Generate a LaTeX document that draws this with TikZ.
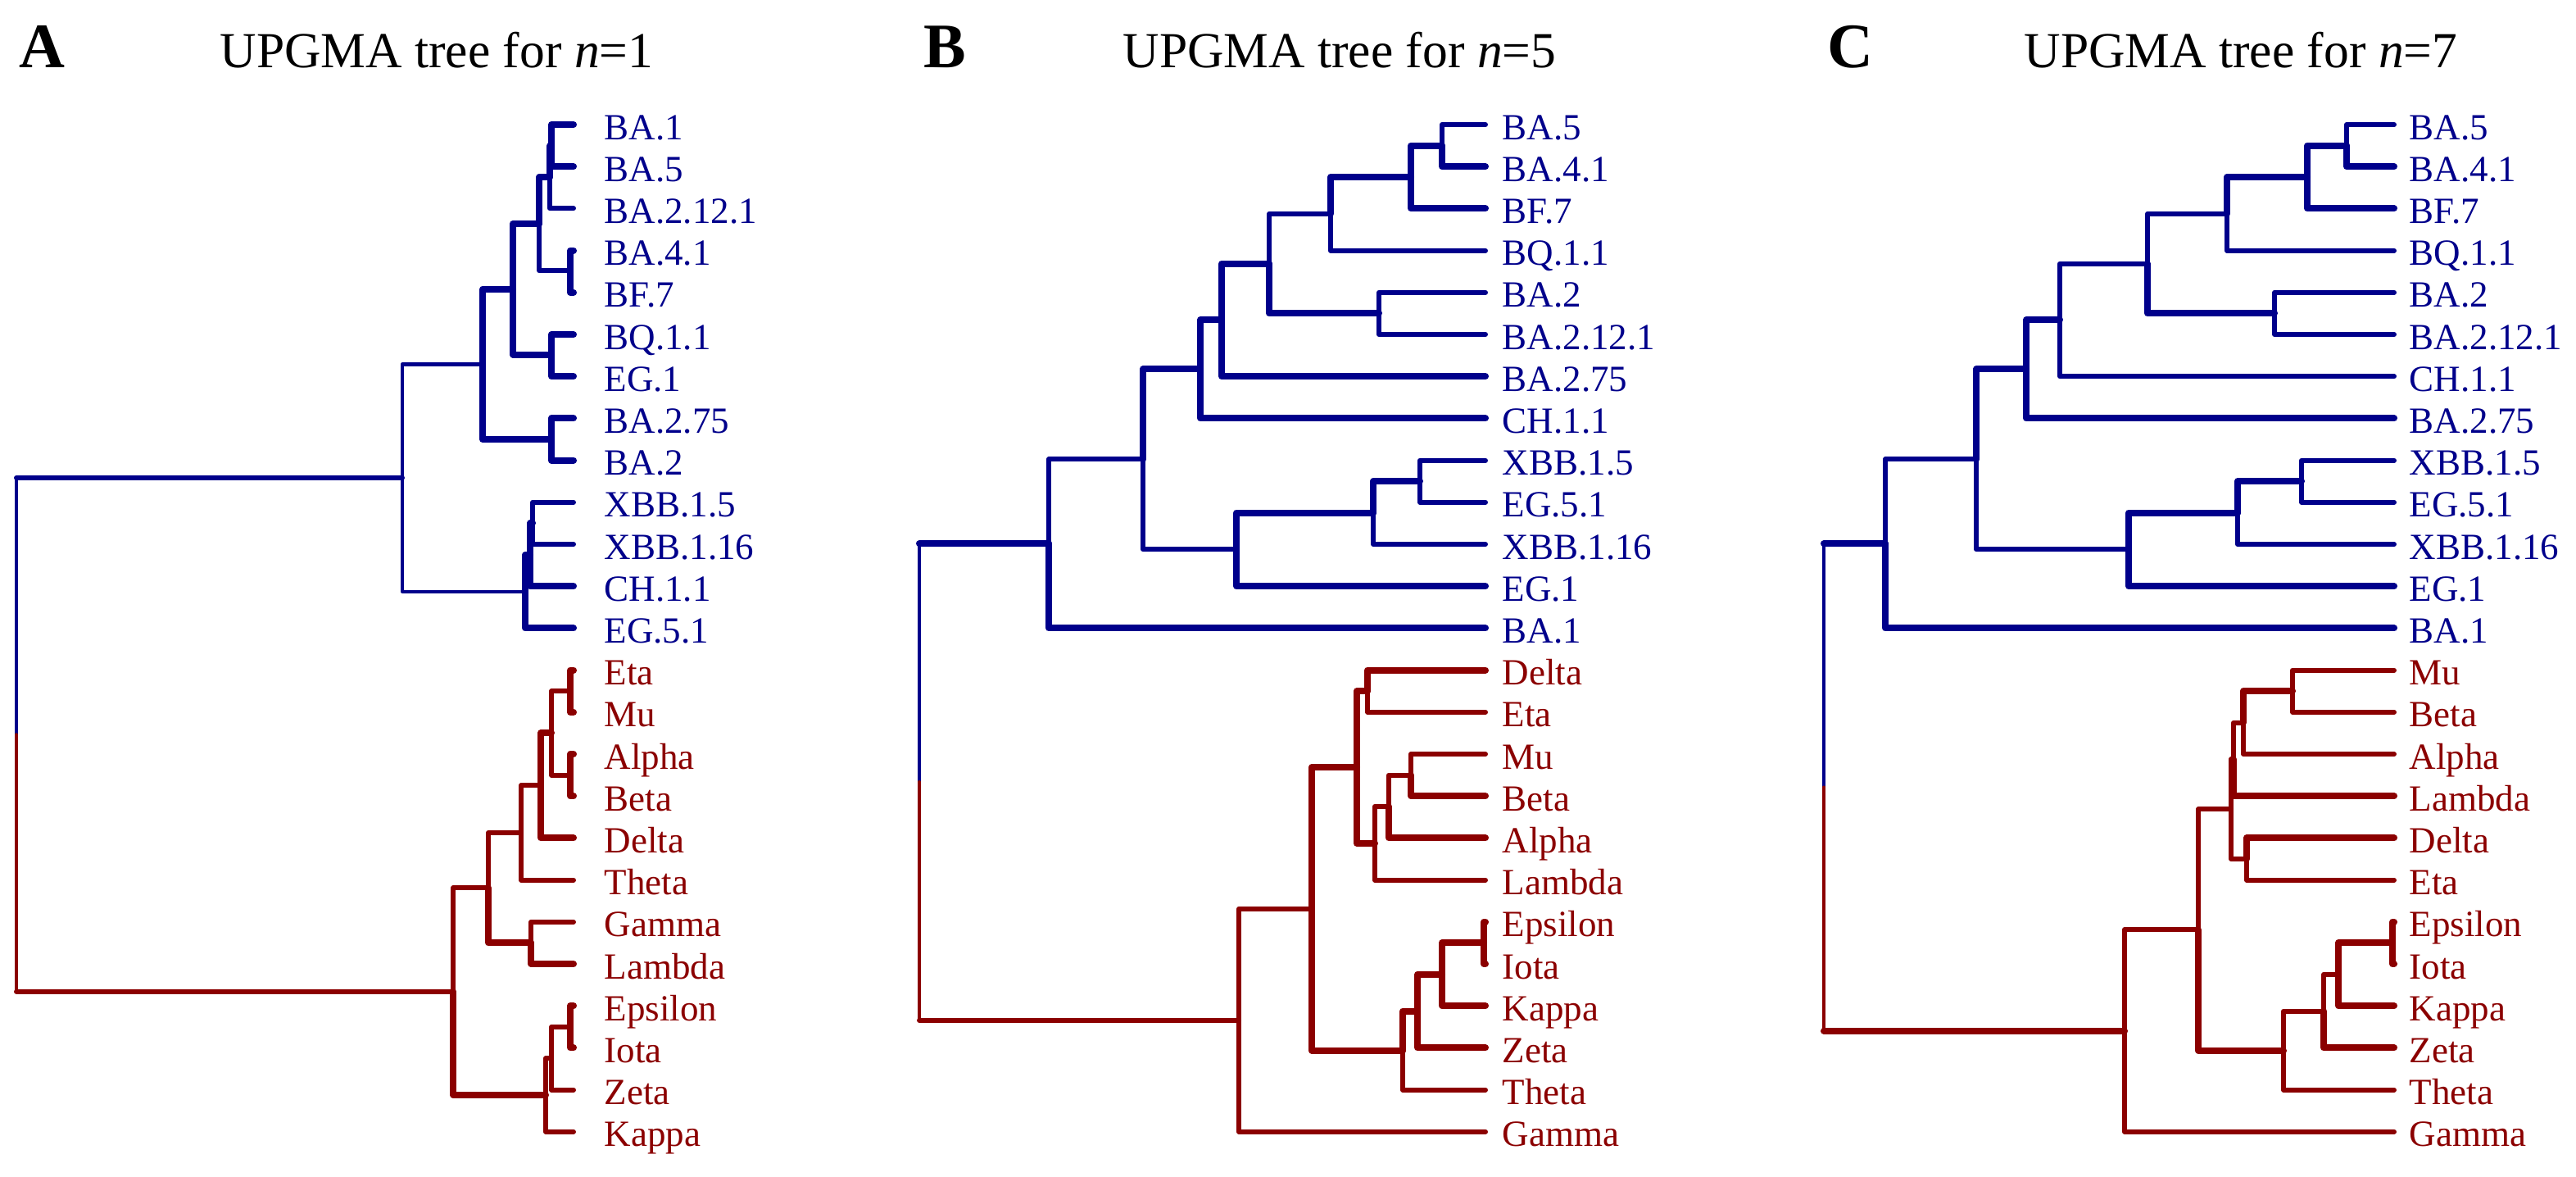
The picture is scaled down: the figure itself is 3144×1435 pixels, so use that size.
\documentclass[tikz,border=0pt]{standalone}
\usepackage{fontspec}
\setmainfont{Liberation Serif}
\definecolor{cladeblue}{RGB}{0,0,139}
\definecolor{cladered}{RGB}{139,0,0}

\begin{document}
\begin{tikzpicture}[x=0.01cm,y=-0.01cm,
	br/.style={line width=1.7pt,line cap=round,line join=round},
	hv/.style={br,line width=2.3pt},
	stem/.style={br,line width=1.2pt},
	leaf/.style={anchor=base west,inner sep=0pt,font=\fontsize{12.8}{14}\selectfont},
	ttl/.style={anchor=base west,inner sep=0pt,font=\fontsize{17.5}{20}\selectfont},
	tag/.style={anchor=base west,inner sep=0pt,font=\fontsize{22}{24}\selectfont\bfseries}]
	\useasboundingbox (0,0) rectangle (3144,1435);

	% titles
	\node[tag] (tagA) at (23,82) {A};
	\node[ttl] (ttlA) at (268,82) {UPGMA tree for \textit{n}=1};
	\node[tag] (tagB) at (1127,82) {B};
	\node[ttl] (ttlB) at (1370,82) {UPGMA tree for \textit{n}=5};
	\node[tag] (tagC) at (2230,82) {C};
	\node[ttl] (ttlC) at (2470,82) {UPGMA tree for \textit{n}=7};

	% panel A leaves
	\foreach \lab [count=\i from 0] in {BA.1,BA.5,BA.2.12.1,BA.4.1,BF.7,BQ.1.1,EG.1,BA.2.75,BA.2,XBB.1.5,XBB.1.16,CH.1.1,EG.5.1}{
		\coordinate (A\i) at (700,{152+51.2*\i});
		\node[leaf,cladeblue] (la\i) at (737,{170+51.2*\i}) {\lab};
	}
	\foreach \lab [count=\i from 13] in {Eta,Mu,Alpha,Beta,Delta,Theta,Gamma,Lambda,Epsilon,Iota,Zeta,Kappa}{
		\coordinate (A\i) at (700,{152+51.2*\i});
		\node[leaf,cladered] (la\i) at (737,{170+51.2*\i}) {\lab};
	}
	\coordinate (a1a) at (673,177.6);
	\coordinate (a1) at (671,216);
	\coordinate (a2) at (696,330.2);
	\coordinate (a3) at (658,273.1);
	\coordinate (a4) at (673,432.6);
	\coordinate (a5) at (626,352.9);
	\coordinate (a6) at (673,536);
	\coordinate (a7) at (589,444.4);
	\coordinate (a8a) at (650,638.4);
	\coordinate (a8) at (647,676.8);
	\coordinate (a9) at (641,721.6);
	\coordinate (a10) at (491,583);
	\coordinate (a11) at (696,843.2);
	\coordinate (a12) at (696,945.6);
	\coordinate (a13) at (673,894.4);
	\coordinate (a14) at (660,958.4);
	\coordinate (a15) at (636,1016);
	\coordinate (a16) at (648,1150.4);
	\coordinate (a17) at (596,1083.2);
	\coordinate (a18) at (696,1252.8);
	\coordinate (a19) at (673,1291.2);
	\coordinate (a20) at (666,1336);
	\coordinate (a21) at (553,1209.6);
	\coordinate (rA) at (20,896.3);
	\begin{scope}[cladeblue]
		\draw[stem] (rA) -- (rA |- a10);
		\draw[br] (rA |- a10) -- (a10);
		\draw[stem] (a10) |- (a7) (a10) |- (a9);
		\draw[hv] (a7) |- (a5) (a7) |- (a6);
		\draw[hv] (a5) |- (a3) (a5) |- (a4);
		\draw[hv] (a3) |- (a1);
		\draw[br] (a3) |- (a2);
		\draw[hv] (a1) |- (a1a) (a1a) |- (A0) (a1a) |- (A1);
		\draw[br] (a1) |- (A2);
		\draw[hv] (a2) |- (A3) (a2) |- (A4);
		\draw[hv] (a4) |- (A5) (a4) |- (A6);
		\draw[hv] (a6) |- (A7) (a6) |- (A8);
		\draw[hv] (a9) |- (a8) (a9) |- (A12) (a8) |- (a8a) (a8) |- (A11);
		\draw[br] (a8a) |- (A9) (a8a) |- (A10);
	\end{scope}
	\begin{scope}[cladered]
		\draw[stem] (rA) -- (rA |- a21);
		\draw[br] (rA |- a21) -- (a21);
		\draw[br] (a21) |- (a17);
		\draw[hv] (a21) |- (a20);
		\draw[br] (a17) |- (a15);
		\draw[hv] (a17) |- (a16);
		\draw[br] (a16) |- (A19);
		\draw[hv] (a16) |- (A20);
		\draw[br] (a15) |- (a14) (a15) |- (A18);
		\draw[hv] (a14) |- (a13) (a14) |- (A17);
		\draw[br] (a13) |- (a11) (a13) |- (a12);
		\draw[hv] (a11) |- (A13) (a11) |- (A14) (a12) |- (A15) (a12) |- (A16);
		\draw[br] (a20) |- (a19) (a20) |- (A24);
		\draw[br] (a19) |- (a18) (a19) |- (A23);
		\draw[hv] (a18) |- (A21) (a18) |- (A22);
	\end{scope}

	% panel B leaves
	\foreach \lab [count=\i from 0] in {BA.5,BA.4.1,BF.7,BQ.1.1,BA.2,BA.2.12.1,BA.2.75,CH.1.1,XBB.1.5,EG.5.1,XBB.1.16,EG.1,BA.1}{
		\coordinate (B\i) at (1813,{152+51.2*\i});
		\node[leaf,cladeblue] (lb\i) at (1833,{170+51.2*\i}) {\lab};
	}
	\foreach \lab [count=\i from 13] in {Delta,Eta,Mu,Beta,Alpha,Lambda,Epsilon,Iota,Kappa,Zeta,Theta,Gamma}{
		\coordinate (B\i) at (1813,{152+51.2*\i});
		\node[leaf,cladered] (lb\i) at (1833,{170+51.2*\i}) {\lab};
	}
	\coordinate (b1) at (1760,177.6);
	\coordinate (b2) at (1722,216);
	\coordinate (b3) at (1624,260.8);
	\coordinate (b4) at (1683,382.4);
	\coordinate (b5) at (1549,321.6);
	\coordinate (b6) at (1491,390.4);
	\coordinate (b7) at (1465,450.4);
	\coordinate (b8) at (1733,587.2);
	\coordinate (b9) at (1676,625.6);
	\coordinate (b10) at (1509,670.4);
	\coordinate (b11) at (1395,560.4);
	\coordinate (b12) at (1280,663.4);
	\coordinate (b13) at (1669,843.2);
	\coordinate (b14) at (1722,945.6);
	\coordinate (b15) at (1695,984);
	\coordinate (b16) at (1678,1028.8);
	\coordinate (b17) at (1656,936);
	\coordinate (b18) at (1811,1150.4);
	\coordinate (b19) at (1760,1188.8);
	\coordinate (b20) at (1730,1233.6);
	\coordinate (b21) at (1712,1281.6);
	\coordinate (b22) at (1601,1108.8);
	\coordinate (b23) at (1512,1244.8);
	\coordinate (rB) at (1122,954.1);
	\begin{scope}[cladeblue]
		\draw[stem] (rB) -- (rB |- b12);
		\draw[hv] (rB |- b12) -- (b12);
		\draw[br] (b12) |- (b11);
		\draw[hv] (b12) |- (B12);
		\draw[hv] (b11) |- (b7);
		\draw[br] (b11) |- (b10);
		\draw[hv] (b7) |- (b6) (b7) |- (B7);
		\draw[hv] (b6) |- (b5) (b6) |- (B6);
		\draw[br] (b5) |- (b3);
		\draw[hv] (b5) |- (b4);
		\draw[hv] (b3) |- (b2);
		\draw[br] (b3) |- (B3);
		\draw[hv] (b2) |- (b1) (b2) |- (B2);
		\draw[br] (b1) |- (B0);
		\draw[hv] (b1) |- (B1);
		\draw[br] (b4) |- (B4) (b4) |- (B5);
		\draw[hv] (b10) |- (b9) (b10) |- (B11);
		\draw[hv] (b9) |- (b8);
		\draw[br] (b9) |- (B10);
		\draw[br] (b8) |- (B8) (b8) |- (B9);
	\end{scope}
	\begin{scope}[cladered]
		\draw[stem] (rB) -- (rB |- b23);
		\draw[br] (rB |- b23) -- (b23);
		\draw[br] (b23) |- (b22) (b23) |- (B24);
		\draw[hv] (b22) |- (b17) (b22) |- (b21);
		\draw[hv] (b17) |- (b13) (b17) |- (b16);
		\draw[hv] (b13) |- (B13);
		\draw[br] (b13) |- (B14);
		\draw[br] (b16) |- (b15) (b16) |- (B18);
		\draw[br] (b15) |- (b14);
		\draw[hv] (b15) |- (B17);
		\draw[br] (b14) |- (B15);
		\draw[hv] (b14) |- (B16);
		\draw[hv] (b21) |- (b20);
		\draw[br] (b21) |- (B23);
		\draw[hv] (b20) |- (b19) (b20) |- (B22);
		\draw[hv] (b19) |- (b18) (b19) |- (B21);
		\draw[hv] (b18) |- (B19) (b18) |- (B20);
	\end{scope}

	% panel C leaves
	\foreach \lab [count=\i from 0] in {BA.5,BA.4.1,BF.7,BQ.1.1,BA.2,BA.2.12.1,CH.1.1,BA.2.75,XBB.1.5,EG.5.1,XBB.1.16,EG.1,BA.1}{
		\coordinate (C\i) at (2922,{152+51.2*\i});
		\node[leaf,cladeblue] (lc\i) at (2940,{170+51.2*\i}) {\lab};
	}
	\foreach \lab [count=\i from 13] in {Mu,Beta,Alpha,Lambda,Delta,Eta,Epsilon,Iota,Kappa,Zeta,Theta,Gamma}{
		\coordinate (C\i) at (2922,{152+51.2*\i});
		\node[leaf,cladered] (lc\i) at (2940,{170+51.2*\i}) {\lab};
	}
	\coordinate (c1) at (2864,177.6);
	\coordinate (c2) at (2816,216);
	\coordinate (c3) at (2718,260.8);
	\coordinate (c4) at (2776,382.4);
	\coordinate (c5) at (2621,321.6);
	\coordinate (c6) at (2514,390.4);
	\coordinate (c7) at (2473,450.4);
	\coordinate (c8) at (2809,587.2);
	\coordinate (c9) at (2731,625.6);
	\coordinate (c10) at (2598,670.4);
	\coordinate (c11) at (2412,560.4);
	\coordinate (c12) at (2301,663.4);
	\coordinate (c13) at (2798,843.2);
	\coordinate (c14) at (2738,881.6);
	\coordinate (c15a) at (2726,926.4);
	\coordinate (c15) at (2723,987.2);
	\coordinate (c16) at (2742,1048);
	\coordinate (c17) at (2920,1150.4);
	\coordinate (c18) at (2854,1188.8);
	\coordinate (c19) at (2836,1233.6);
	\coordinate (c20) at (2787,1281.6);
	\coordinate (c21) at (2683,1134.4);
	\coordinate (c22) at (2593,1257.6);
	\coordinate (rC) at (2226,960.5);
	\begin{scope}[cladeblue]
		\draw[stem] (rC) -- (rC |- c12);
		\draw[hv] (rC |- c12) -- (c12);
		\draw[br] (c12) |- (c11);
		\draw[hv] (c12) |- (C12);
		\draw[hv] (c11) |- (c7);
		\draw[br] (c11) |- (c10);
		\draw[hv] (c7) |- (c6) (c7) |- (C7);
		\draw[br] (c6) |- (c5) (c6) |- (C6);
		\draw[br] (c5) |- (c3);
		\draw[hv] (c5) |- (c4);
		\draw[hv] (c3) |- (c2);
		\draw[br] (c3) |- (C3);
		\draw[hv] (c2) |- (c1) (c2) |- (C2);
		\draw[br] (c1) |- (C0);
		\draw[hv] (c1) |- (C1);
		\draw[br] (c4) |- (C4) (c4) |- (C5);
		\draw[hv] (c10) |- (c9) (c10) |- (C11);
		\draw[hv] (c9) |- (c8);
		\draw[br] (c9) |- (C10);
		\draw[br] (c8) |- (C8) (c8) |- (C9);
	\end{scope}
	\begin{scope}[cladered]
		\draw[stem] (rC) -- (rC |- c22);
		\draw[hv] (rC |- c22) -- (c22);
		\draw[br] (c22) |- (c21) (c22) |- (C24);
		\draw[br] (c21) |- (c15);
		\draw[hv] (c21) |- (c20);
		\draw[br] (c15) |- (c15a) (c15) |- (c16);
		\draw[br] (c15a) |- (c14);
		\draw[hv] (c15a) |- (C16);
		\draw[hv] (c14) |- (c13);
		\draw[br] (c14) |- (C15);
		\draw[br] (c13) |- (C13) (c13) |- (C14);
		\draw[hv] (c16) |- (C17);
		\draw[br] (c16) |- (C18);
		\draw[br] (c20) |- (c19) (c20) |- (C23);
		\draw[br] (c19) |- (c18);
		\draw[hv] (c19) |- (C22);
		\draw[hv] (c18) |- (c17) (c18) |- (C21);
		\draw[hv] (c17) |- (C19) (c17) |- (C20);
	\end{scope}
\end{tikzpicture}
\end{document}
